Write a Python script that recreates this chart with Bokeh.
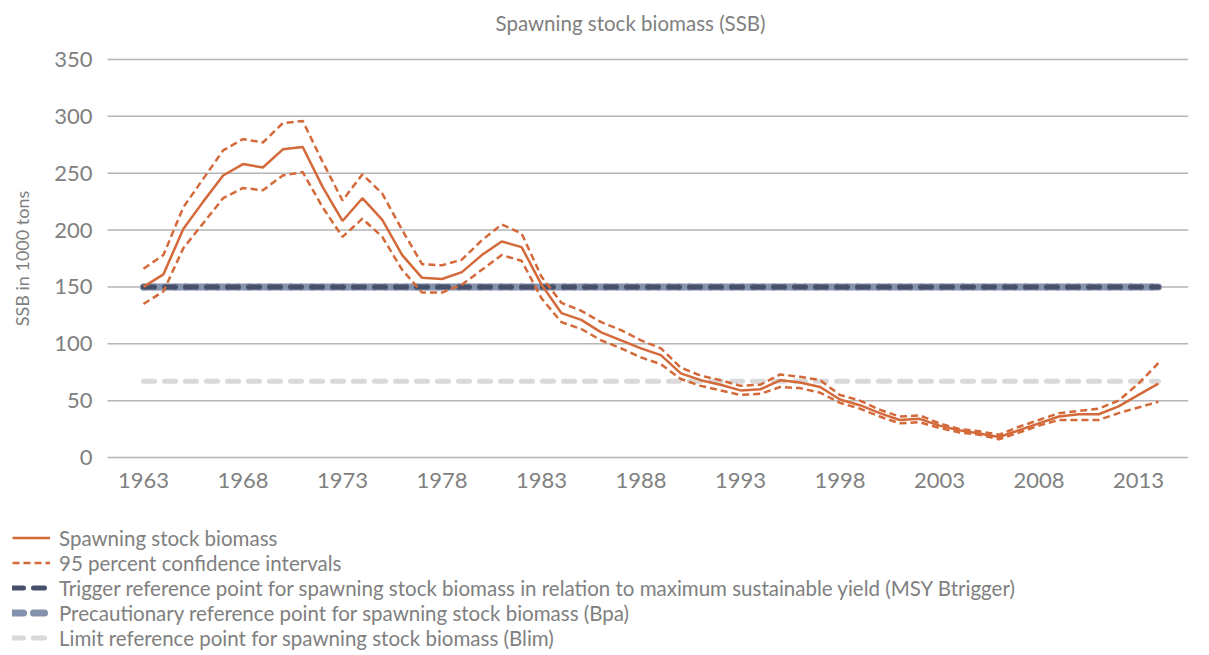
from bokeh.plotting import figure
from bokeh.models import Legend, LegendItem, FixedTicker, Title
from bokeh.embed import file_html
from bokeh.resources import INLINE

years = list(range(1963, 2015))
ssb = [150, 161, 201, 225, 248, 258, 255, 271, 273, 238, 208, 228, 209, 178, 158, 157, 163, 178, 190, 185,
       152, 127, 121, 110, 103, 96, 90, 74, 68, 64, 59, 60, 68, 66, 62, 51, 46, 39, 33, 34,
       28, 24, 21, 18, 24, 30, 36, 38, 38, 45, 55, 65]
ci_upper = [166, 178, 220, 245, 270, 280, 277, 294, 296, 260, 226, 249, 232, 200, 170, 169, 174, 191, 205, 197,
            159, 136, 129, 119, 112, 103, 96, 79, 72, 68, 63, 64, 73, 71, 68, 55, 50, 42, 36, 37,
            30, 25, 23, 20, 27, 33, 39, 41, 43, 50, 65, 83]
ci_lower = [135, 146, 184, 206, 228, 237, 235, 248, 251, 220, 194, 210, 194, 165, 145, 145, 152, 165, 178, 173,
            140, 119, 113, 103, 96, 88, 82, 69, 63, 59, 55, 56, 62, 61, 57, 48, 43, 36, 30, 31,
            26, 22, 20, 16, 22, 28, 33, 33, 33, 39, 44, 49]
msy_btrigger = 150
bpa = 150
blim = 67
x_ticks = [1963, 1968, 1973, 1978, 1983, 1988, 1993, 1998, 2003, 2008, 2013]
y_ticks = [0, 50, 100, 150, 200, 250, 300, 350]
legend_labels = [
    "Spawning stock biomass",
    "95 percent confidence intervals",
    "Trigger reference point for spawning stock biomass in relation to maximum sustainable yield (MSY Btrigger)",
    "Precautionary reference point for spawning stock biomass (Bpa)",
    "Limit reference point for spawning stock biomass (Blim)",
]

FONT = "Lato"
TXT = "#808080"
ORANGE = "#d4693a"
NAVY = "#46506a"
BPA_C = "#8592ad"
BLIM_C = "#d9d9d9"

# plotting area (x from axis start to end of category band)
X_START, X_END = 1961.19, 2015.513

p = figure(frame_width=1184, frame_height=612,
           x_range=(1956.015, X_END), y_range=(-171.5, 366.7),
           output_backend="svg", toolbar_location=None,
           min_border_left=4, min_border_right=5, min_border_top=40, min_border_bottom=0)
p.outline_line_color = None
p.grid.visible = False

p.add_layout(Title(text="Spawning stock biomass (SSB)", align="left", offset=491, text_font=FONT,
                   text_font_size="20.5px", text_color=TXT, text_font_style="normal", standoff=12), "above")

# horizontal gridlines at the y ticks, spanning the plotting area
p.segment(x0=[X_START] * len(y_ticks), x1=[X_END] * len(y_ticks), y0=y_ticks, y1=y_ticks,
          line_color="#b5b5b5", line_width=1.5)

n = len(years)
r_blim = p.line(years, [blim] * n, line_color=BLIM_C, line_width=5, line_dash="11 10", line_cap="round")
r_bpa_fill = p.line(years, [bpa] * n, line_color=BPA_C, line_width=7, line_dash="11 10", line_cap="round",
                    line_dash_offset=10)
r_bpa = p.line(years, [bpa] * n, line_color=BPA_C, line_width=7, line_dash="11 10", line_cap="round")
r_trig = p.line(years, [msy_btrigger] * n, line_color=NAVY, line_width=5, line_dash="11 10", line_cap="round")
r_up = p.line(years, ci_upper, line_color=ORANGE, line_width=2.5, line_dash="7 4")
r_lo = p.line(years, ci_lower, line_color=ORANGE, line_width=2.5, line_dash="7 4")
r_ssb = p.line(years, ssb, line_color=ORANGE, line_width=2.5)

p.yaxis.ticker = FixedTicker(ticks=y_ticks)
p.yaxis.bounds = (0, 350)
p.yaxis.fixed_location = X_START
p.xaxis.ticker = FixedTicker(ticks=x_ticks)
p.xaxis.fixed_location = 0
for ax in (p.xaxis[0], p.yaxis[0]):
    ax.axis_line_color = None
    ax.major_tick_line_color = None
    ax.minor_tick_line_color = None
    ax.major_label_text_font = FONT
    ax.major_label_text_font_size = "22px"
    ax.major_label_text_color = TXT
p.yaxis.major_label_standoff = 9
p.xaxis.major_label_standoff = 10
p.yaxis.axis_label = "SSB in 1000 tons"
p.yaxis.axis_label_text_font = FONT
p.yaxis.axis_label_text_font_size = "18px"
p.yaxis.axis_label_text_font_style = "normal"
p.yaxis.axis_label_text_color = TXT
p.yaxis.axis_label_standoff = 18

renderers = [r_ssb, r_up, r_trig, r_bpa, r_blim]
legend = Legend(items=[LegendItem(label=lab, renderers=[r]) for lab, r in zip(legend_labels, renderers)],
                location=(8, 2), orientation="vertical")
legend.border_line_color = None
legend.background_fill_alpha = 0
legend.padding = 0
legend.margin = 0
legend.spacing = 0
legend.glyph_width = 38
legend.glyph_height = 25
legend.label_height = 25
legend.label_standoff = 9
legend.label_text_font = FONT
legend.label_text_font_size = "20.5px"
legend.label_text_color = TXT
p.add_layout(legend, "center")

open("out.html", "w").write(file_html(p, INLINE))
